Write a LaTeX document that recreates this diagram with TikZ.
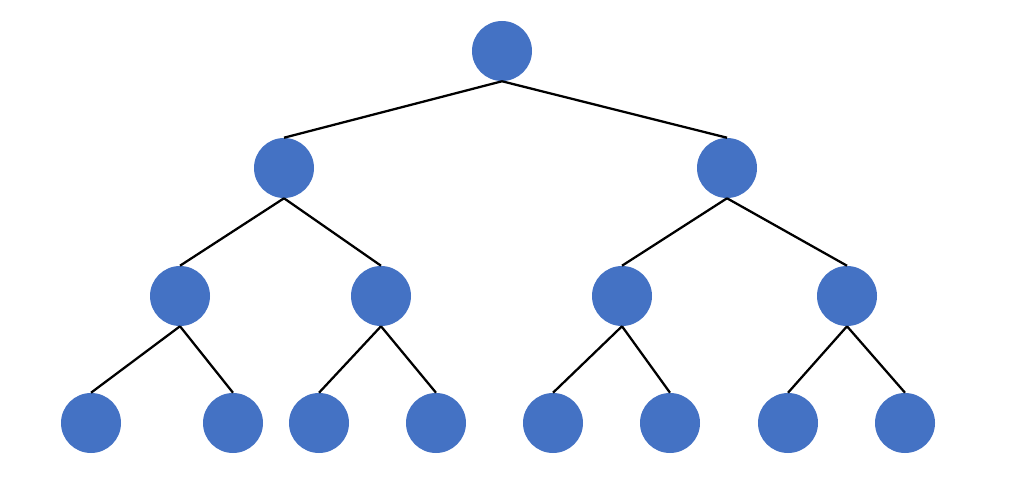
\documentclass[tikz,border=0pt]{standalone}
\definecolor{nodeblue}{HTML}{4472C4}
\begin{document}
\begin{tikzpicture}[x=0.75pt,y=-0.75pt,
  treenode/.style={circle,fill=nodeblue,draw=none,minimum size=45pt,inner sep=0pt},
  edge/.style={line width=1.7pt,black}]
\useasboundingbox (0,0) rectangle (1031,491);
\node[treenode] (r) at (502,51) {};
\node[treenode] (a) at (284,168) {};
\node[treenode] (b) at (727,168) {};
\node[treenode] (aa) at (180,296) {};
\node[treenode] (ab) at (381,296) {};
\node[treenode] (ba) at (622,296) {};
\node[treenode] (bb) at (847,296) {};
\node[treenode] (aaa) at (91,423) {};
\node[treenode] (aab) at (233,423) {};
\node[treenode] (aba) at (319,423) {};
\node[treenode] (abb) at (436,423) {};
\node[treenode] (baa) at (553,423) {};
\node[treenode] (bab) at (670,423) {};
\node[treenode] (bba) at (788,423) {};
\node[treenode] (bbb) at (905,423) {};
\foreach \p/\c in {r/a,r/b,a/aa,a/ab,b/ba,b/bb,aa/aaa,aa/aab,ab/aba,ab/abb,ba/baa,ba/bab,bb/bba,bb/bbb}
  \draw[edge] (\p.south) -- (\c.north);
\end{tikzpicture}
\end{document}
